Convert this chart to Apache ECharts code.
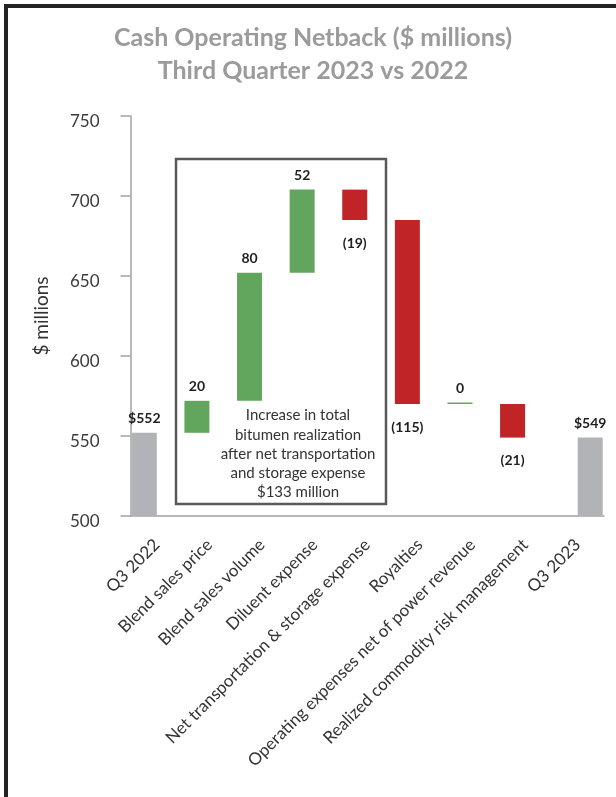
<!DOCTYPE html>
<html>
<head>
<meta charset="utf-8">
<style>
  html, body { margin: 0; padding: 0; background: #fff; }
  #chart { width: 616px; height: 797px; }
</style>
<script src="https://cdn.jsdelivr.net/npm/echarts@6/dist/echarts.min.js"></script>
</head>
<body>
<div id="chart"></div>
<script>
// Cash operating netback bridge, Q3 2022 to Q3 2023 ($ millions)
const categories = [
  'Q3 2022',
  'Blend sales price',
  'Blend sales volume',
  'Diluent expense',
  'Net transportation & storage expense',
  'Royalties',
  'Operating expenses net of power revenue',
  'Realized commodity risk management',
  'Q3 2023'
];
const startTotal = 552;
const changes = [20, 80, 52, -19, -115, 0, -21];
const endTotal = 549;
const yTicks = [500, 550, 600, 650, 700, 750];
const boxNote = ['Increase in total', 'bitumen realization', 'after net transportation', 'and storage expense', '$133 million'];

// Build the stacked waterfall pieces from the running total
const baseData = ['-'];
const upData = ['-'];
const downData = ['-'];
let running = startTotal;
changes.forEach(function (c) {
  if (c >= 0) {
    baseData.push(running);
    upData.push(c);
    downData.push('-');
  } else {
    baseData.push(running + c);
    upData.push('-');
    downData.push(-c);
  }
  running += c;
});
baseData.push('-'); upData.push('-'); downData.push('-');
const startData = categories.map(function (_, i) { return i === 0 ? startTotal : '-'; });
const endData = categories.map(function (_, i) { return i === categories.length - 1 ? endTotal : '-'; });

const FONT = 'Lato, "Open Sans", sans-serif';
const labelStyle = { fontFamily: FONT, fontSize: 14, fontWeight: 'bold', color: '#1f1f1f' };

const chart = echarts.init(document.getElementById('chart'));
chart.setOption({
  animation: false,
  backgroundColor: '#ffffff',
  grid: { left: 130.5, right: 12, top: 116, bottom: 281, containLabel: false },
  xAxis: {
    type: 'category',
    data: categories,
    boundaryGap: true,
    axisLine: { lineStyle: { color: '#a3a3a6', width: 1.5 } },
    axisTick: { alignWithLabel: true, length: 10, lineStyle: { color: '#a3a3a6', width: 1.5 } },
    axisLabel: { rotate: 45, interval: 0, margin: 26, fontFamily: FONT, fontSize: 17, color: '#333333' }
  },
  yAxis: {
    type: 'value',
    min: yTicks[0],
    max: yTicks[yTicks.length - 1],
    interval: 50,
    name: '$ millions',
    nameLocation: 'middle',
    nameGap: 79,
    nameTextStyle: { fontFamily: FONT, fontSize: 19, color: '#333333' },
    axisLine: { show: true, lineStyle: { color: '#a3a3a6', width: 1.5 } },
    axisTick: { show: true, length: 10, lineStyle: { color: '#a3a3a6', width: 1.5 } },
    axisLabel: { margin: 31, verticalAlign: 'top', lineHeight: 11, fontFamily: FONT, fontSize: 17, color: '#3a3a3a' },
    splitLine: { show: false }
  },
  series: [
    {
      name: 'base', type: 'bar', stack: 'bridge', barWidth: 25, barGap: '0%',
      data: baseData, itemStyle: { color: 'rgba(0,0,0,0)' }, silent: true
    },
    {
      name: 'start', type: 'bar', stack: 'bridge', barWidth: 25,
      data: startData, itemStyle: { color: '#b2b3b7' },
      label: Object.assign({ show: true, position: 'top', distance: 7,
        formatter: function (p) { return '$' + p.value; } }, labelStyle)
    },
    {
      name: 'increase', type: 'bar', stack: 'bridge', barWidth: 25, barMinHeight: 1.5,
      data: upData, itemStyle: { color: '#62a65d' },
      label: Object.assign({ show: true, position: 'top', distance: 7 }, labelStyle)
    },
    {
      name: 'decrease', type: 'bar', stack: 'bridge', barWidth: 25,
      data: downData, itemStyle: { color: '#c02427' },
      label: Object.assign({ show: true, position: 'bottom', distance: 16,
        formatter: function (p) { return '(' + p.value + ')'; } }, labelStyle)
    },
    {
      name: 'end', type: 'bar', stack: 'closing', barWidth: 25, barGap: '0%',
      data: endData, itemStyle: { color: '#b2b3b7' },
      label: Object.assign({ show: true, position: 'top', distance: 7,
        formatter: function (p) { return '$' + p.value; } }, labelStyle)
    }
  ],
  graphic: [
    // frame lines along the top and left edges
    { type: 'rect', shape: { x: 4, y: 4, width: 612, height: 4 }, style: { fill: '#232323' } },
    { type: 'rect', shape: { x: 4, y: 4, width: 4, height: 793 }, style: { fill: '#232323' } },
    // chart title
    {
      type: 'text', x: 313, y: 54,
      style: {
        text: 'Cash Operating Netback ($ millions)\nThird Quarter 2023 vs 2022',
        fill: '#9b9b9b', fontFamily: FONT, fontSize: 25, fontWeight: 'bold',
        lineHeight: 33, align: 'center', verticalAlign: 'middle'
      }
    },
    // callout box around the bitumen realization items
    {
      type: 'rect', z: 1,
      shape: { x: 176, y: 159, width: 210, height: 345 },
      style: { fill: 'none', stroke: '#595959', lineWidth: 2.5 }
    },
    {
      type: 'text', x: 298, y: 454, z: 2,
      style: {
        text: boxNote.join('\n'), fill: '#333333', fontFamily: FONT, fontSize: 15,
        lineHeight: 19.2, align: 'center', verticalAlign: 'middle'
      }
    }
  ]
});
</script>
</body>
</html>
